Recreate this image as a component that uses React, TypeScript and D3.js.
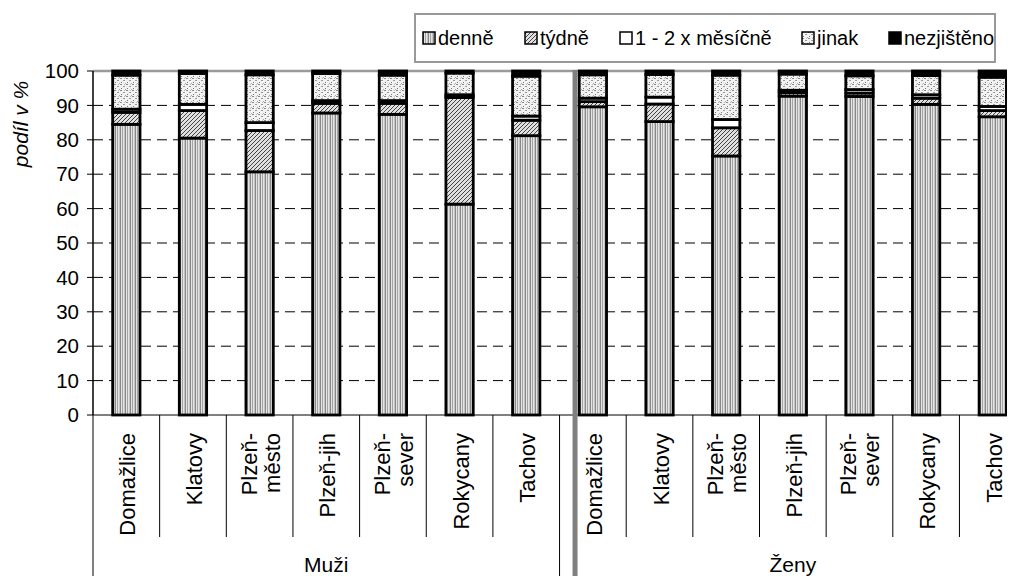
import React from "react";
import * as d3 from "d3";

const groups = ["Muži", "Ženy"];
const districts = ["Domažlice", "Klatovy", "Plzeň-město", "Plzeň-jih", "Plzeň-sever", "Rokycany", "Tachov"];
const districtLabels = [["Domažlice"], ["Klatovy"], ["Plzeň-", "město"], ["Plzeň-jih"], ["Plzeň-", "sever"], ["Rokycany"], ["Tachov"]];
const seriesKeys = ["denně", "týdně", "1 - 2 x měsíčně", "jinak", "nezjištěno"];

// order: Muži (7 districts), then Ženy (7 districts)
const denne = [84.5, 80.5, 70.7, 87.8, 87.4, 61.3, 81.2, 89.6, 85.3, 75.3, 92.7, 92.6, 90.3, 86.7];
const tydne = [3.5, 8.0, 12.0, 2.8, 3.2, 31.0, 4.5, 1.5, 5.1, 8.2, 1.0, 1.0, 1.8, 1.8];
const mesicne = [0.9, 1.8, 2.3, 0.8, 0.8, 0.8, 1.2, 1.0, 2.0, 2.4, 0.7, 1.0, 1.0, 1.2];
const jinak = [9.9, 9.0, 13.9, 7.9, 7.4, 6.3, 11.6, 6.8, 6.6, 12.9, 4.7, 4.0, 5.6, 8.5];
const nezjisteno = [1.2, 0.7, 1.1, 0.7, 1.2, 0.6, 1.5, 1.1, 1.0, 1.2, 0.9, 1.4, 1.3, 1.8];

const yTicks = [0, 10, 20, 30, 40, 50, 60, 70, 80, 90, 100];

const W = 1014, H = 576;
const plotL = 93, plotT = 71, plotB = 415, slotW = 66.65, clipR = 1007;
const FONT = "'Liberation Sans', Arial, Helvetica, sans-serif";
const fills = ["url(#pDenne)", "url(#pTydne)", "#ffffff", "url(#pJinak)", "#000000"];

export default function App() {
  const rows = groups.flatMap((g, gi) =>
    districts.map((d, di) => {
      const i = gi * districts.length + di;
      return {
        id: `${g}|${d}`,
        group: g,
        di,
        [seriesKeys[0]]: denne[i],
        [seriesKeys[1]]: tydne[i],
        [seriesKeys[2]]: mesicne[i],
        [seriesKeys[3]]: jinak[i],
        [seriesKeys[4]]: nezjisteno[i],
      };
    })
  );
  const ids = rows.map((r) => r.id);
  const x = d3.scaleBand<string>().domain(ids).range([plotL, plotL + slotW * ids.length]).padding(0);
  const y = d3.scaleLinear().domain([0, 100]).range([plotB, plotT]);
  const stacked = d3.stack<any>().keys(seriesKeys)(rows);
  const bw = x.bandwidth() * 0.41;

  const groupStart = (gi: number) => x(ids[gi * districts.length])!;
  const groupEnd = (gi: number) => x(ids[gi * districts.length + districts.length - 1])! + x.bandwidth();

  // legend layout
  const legendTextW = [56, 49, 136, 41, 90];
  let lx = 423;
  const legendPos = legendTextW.map((w) => {
    const p = lx;
    lx += 16 + w + 30;
    return p;
  });

  return (
    <svg width={W} height={H} style={{ position: "absolute", left: 0, top: 0, background: "#fff" }} fontFamily={FONT}>
      <defs>
        <pattern id="pDenne" width="5" height="5" patternUnits="userSpaceOnUse">
          <rect width="5" height="5" fill="#e4e4e4" />
          <rect x="0" width="1" height="5" fill="#888" />
          <rect x="2" width="1" height="5" fill="#a4a4a4" />
          <rect x="4" width="1" height="5" fill="#c4c4c4" />
        </pattern>
        <pattern id="pTydne" width="4" height="4" patternUnits="userSpaceOnUse">
          <rect width="4" height="4" fill="#e0e0e0" />
          <path d="M-1,1 l2,-2 M0,4 l4,-4 M3,5 l2,-2" stroke="#444" strokeWidth="1" />
        </pattern>
        <pattern id="pJinak" width="6" height="6" patternUnits="userSpaceOnUse">
          <rect width="6" height="6" fill="#f2f2f2" />
          <rect x="0" y="0" width="2" height="1" fill="#8a8a8a" />
          <rect x="3" y="2" width="2" height="1" fill="#9a9a9a" />
          <rect x="1" y="4" width="1" height="1" fill="#777" />
          <rect x="5" y="5" width="1" height="1" fill="#aaa" />
          <rect x="4" y="0" width="1" height="1" fill="#bbb" />
        </pattern>
        <clipPath id="plotClip">
          <rect x={0} y={0} width={clipR} height={H} />
        </clipPath>
      </defs>

      {/* legend */}
      <rect x={415} y={14} width={580} height={48} fill="#fff" stroke="#999" strokeWidth={2} />
      {seriesKeys.map((k, i) => (
        <g key={k} transform={`translate(${legendPos[i]},38)`}>
          <rect x={0} y={-6} width={12} height={12} fill={fills[i]} stroke="#000" strokeWidth={1.5} />
          <text x={15} y={7} fontSize={20} fill="#000">{k}</text>
        </g>
      ))}

      <g clipPath="url(#plotClip)">
        {/* gridlines */}
        {yTicks.filter((t) => t > 0 && t < 100).map((t) => (
          <line key={t} x1={plotL} x2={clipR} y1={y(t)} y2={y(t)} stroke="#000" strokeWidth={1} strokeDasharray="10,6" />
        ))}
        {/* top border */}
        <line x1={plotL} x2={clipR} y1={y(100)} y2={y(100)} stroke="#9a9a9a" strokeWidth={2.5} />

        {/* bars */}
        {stacked.map((s, si) => (
          <g key={s.key}>
            {s.map((d, i) => (
              <rect
                key={i}
                x={x(ids[i])! + (x.bandwidth() - bw) / 2}
                y={y(d[1])}
                width={bw}
                height={Math.max(0, y(d[0]) - y(d[1]))}
                fill={fills[si]}
                stroke="#000"
                strokeWidth={2.8}
              />
            ))}
          </g>
        ))}

        {/* x axis line */}
        <line x1={plotL} x2={clipR} y1={plotB} y2={plotB} stroke="#000" strokeWidth={1} />

        {/* category separators */}
        {ids.map((id, i) => {
          const isGroupStart = i % districts.length === 0;
          return (
            <line key={id} x1={x(id)!} x2={x(id)!} y1={plotB} y2={isGroupStart ? H : 537} stroke="#000" strokeWidth={1} />
          );
        })}
        <line x1={groupEnd(1)} x2={groupEnd(1)} y1={plotB} y2={H} stroke="#000" strokeWidth={1} />

        {/* grey group divider */}
        <line x1={groupStart(1) + 15.5} x2={groupStart(1) + 15.5} y1={y(100) - 1} y2={H} stroke="#808080" strokeWidth={5} />
      </g>

      {/* y axis */}
      <line x1={plotL} x2={plotL} y1={y(0)} y2={y(100)} stroke="#000" strokeWidth={1.5} />
      {yTicks.map((t) => (
        <g key={t} transform={`translate(0,${y(t)})`}>
          <line x1={plotL - 6} x2={plotL} y1={0} y2={0} stroke="#000" strokeWidth={1} />
          <text x={79} y={0} dy="0.35em" textAnchor="end" fontSize={20.5} fill="#000">{t}</text>
        </g>
      ))}
      <text transform={`translate(28,124) rotate(-90)`} textAnchor="middle" fontSize={21} fontStyle="italic" fill="#000">podíl v %</text>

      {/* category labels */}
      {ids.map((id, i) => {
        const cx = x(id)! + x.bandwidth() / 2;
        const lines = districtLabels[i % districts.length];
        const offs = lines.length === 1 ? [9] : [-3, 20];
        return (
          <g key={id} transform={`translate(${cx},433) rotate(-90)`}>
            {lines.map((ln, li) => (
              <text key={li} x={0} y={offs[li]} textAnchor="end" fontSize={22} fill="#000">{ln}</text>
            ))}
          </g>
        );
      })}

      {/* group labels */}
      {groups.map((g, gi) => (
        <text key={g} x={(groupStart(gi) + groupEnd(gi)) / 2} y={572} textAnchor="middle" fontSize={21} fill="#000">{g}</text>
      ))}
    </svg>
  );
}
